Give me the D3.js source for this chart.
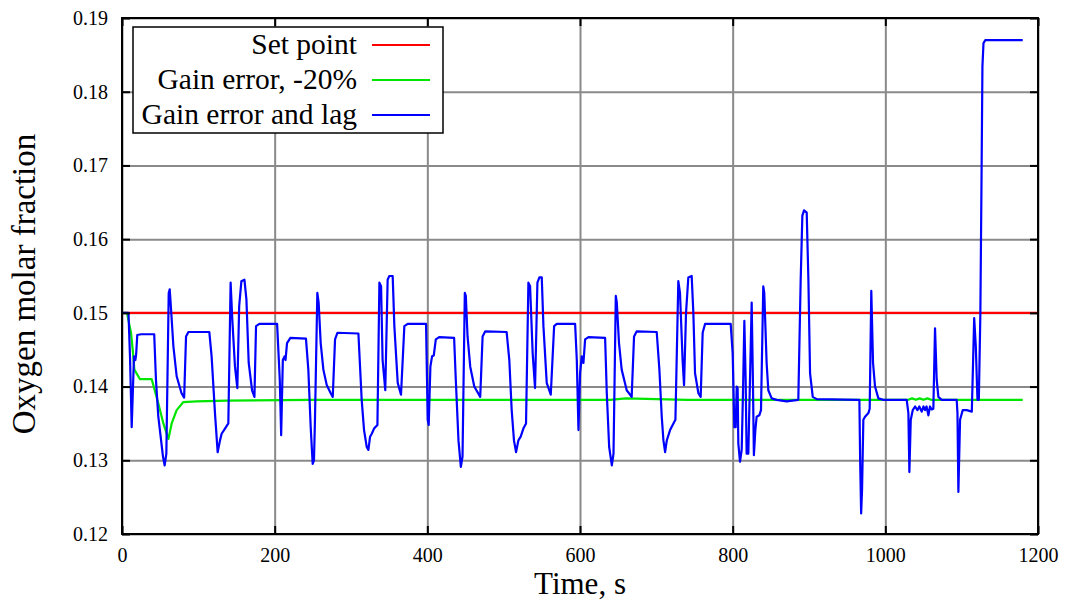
<!DOCTYPE html>
<html>
<head>
<meta charset="utf-8">
<script src="https://cdn.jsdelivr.net/npm/d3@7"></script>
<style>
  html, body { margin: 0; padding: 0; background: #fff; }
  svg { display: block; }
  text { font-family: "Liberation Serif", "DejaVu Serif", serif; fill: #000; }
</style>
</head>
<body>
<svg id="chart" width="1065" height="600"></svg>
<script>
// Time axis (s) and oxygen molar fraction series
const setPointT = [0, 1200];
const setPointV = [0.150, 0.150];

const gainT = [0, 6.5, 11.8, 14.5, 16.2, 23.6, 38.9, 47.6, 54.2, 60.8, 65.1, 71.6, 80.4, 97.8, 137.2, 246.4,
  640, 660, 700, 740, 1030, 1035, 1040, 1045, 1050, 1055, 1060, 1065, 1180];
const gainV = [0.1500, 0.1500, 0.1473, 0.1445, 0.1423, 0.1410, 0.1410, 0.1377, 0.1350, 0.1329, 0.1350, 0.1368, 0.1379, 0.1380, 0.1381, 0.1382,
  0.1382, 0.1384, 0.1383, 0.1382, 0.1382, 0.1384, 0.1382, 0.1384, 0.1382, 0.1384, 0.1382, 0.1382, 0.1382];

const lagT = [0, 8.5, 10.5, 12.7, 15.7, 17.5, 18.5, 20.0, 25, 42.2, 44.5, 47.5, 53.7, 55.9, 58.1, 61.2, 62.5, 64.0, 67.3, 71.6, 78.0, 81.4,
  83.9, 87.0, 114.4, 117.4, 121.8, 125.3, 128.4, 130.5, 134.9, 139.3, 142.3, 144.5, 148.0, 151.1, 153.5, 156.4, 160.4, 163.0, 166.0,
  170.4, 173.5, 175.6, 180.0, 203.2, 206.7, 208.5, 210.7, 212.9, 214.2, 216.2, 220.6, 241.0, 244.1, 247.2, 249.8, 251.5, 252.8, 255.9,
  257.6, 260.3, 263.8, 268.2, 273.4, 276.1, 279.1, 282.2, 309.7, 314.0, 317.1, 320.6, 322.8, 325.0, 327.2, 330.2, 334.6, 337.2, 339.4,
  341.4, 344.9, 348.0, 350.2, 354.6, 356.8, 361.2, 365.5, 369.9, 374.3, 398.3, 400.5, 401.8, 404.0, 406.2, 408.4, 411.1, 415.5, 435.1,
  437.3, 440.8, 443.9, 446.1, 449.1, 450.4, 452.7, 456.2, 461.5, 469.3, 472.4, 475.9, 503.9, 507.4, 510.5, 513.5, 516.2, 519.3, 522.3,
  525.8, 529.3, 532.4, 534.6, 538.0, 541.1, 544.2, 546.8, 549.9, 552.1, 556.4, 561.7, 566.1, 569.6, 593.6, 595.8, 598.0, 600.1, 602.3,
  604.5, 606.7, 611.1, 632.9, 635.1, 638.2, 641.7, 643.9, 646.9, 648.2, 651.1, 654.6, 661.2, 667.7, 670.8, 674.3, 700.5, 704.0, 707.1,
  709.3, 711.5, 713.7, 718.0, 722.4, 725.0, 728.8, 731.0, 734.4, 736.3, 738.9, 741.9, 746.3, 748.5, 750.7, 755.1, 758.1, 760.7, 763.8,
  797.4, 800.0, 802.2, 804.0, 805.3, 806.5, 807.4, 809.6, 811.8, 813.5, 815.3, 817.0, 818.3, 820.5, 822.7, 824.9, 826.5, 827.8, 829.7,
  831.4, 834.9, 837.1, 840.1, 841.4, 844.5, 846.7, 851.1, 857.6, 870.7, 886.0, 889.1, 891.3, 893.5, 897.0, 899.2, 901.4, 904.9, 910.1,
  964.7, 966.0, 967.0, 968.3, 969.5, 971.2, 973.4, 977.8, 979.5, 981.6, 983.9, 986.5, 990.9, 997.4, 1028.0, 1030.2, 1031.5, 1033.3,
  1035.9, 1039.0, 1042.0, 1044.5, 1047.6, 1050.0, 1052.0, 1054.0, 1056.4, 1058.5, 1060.7, 1062.9, 1065.1, 1067.3, 1069.5, 1073.8,
  1093.5, 1094.5, 1095.7, 1097.9, 1101.4, 1106.6, 1113.3, 1116.4, 1118.5, 1120.7, 1122.5, 1124.5, 1126.0, 1127.2, 1128.6, 1131.0, 1180];
const lagV = [0.1500, 0.1500, 0.1440, 0.1345, 0.1441, 0.1436, 0.1443, 0.1470, 0.1471, 0.1471, 0.1409, 0.1360, 0.1305, 0.1293, 0.1309,
  0.1527, 0.1532, 0.1509, 0.1455, 0.1414, 0.1391, 0.1385, 0.1468, 0.1474, 0.1474, 0.1441, 0.1364, 0.1311, 0.1327, 0.1336, 0.1343,
  0.1350, 0.1541, 0.1491, 0.1427, 0.1398, 0.1509, 0.1543, 0.1545, 0.1518, 0.1432, 0.1395, 0.1386, 0.1482, 0.1485, 0.1485, 0.1409,
  0.1334, 0.1436, 0.1441, 0.1436, 0.1459, 0.1466, 0.1465, 0.1423, 0.1345, 0.1295, 0.1300, 0.1355, 0.1527, 0.1514, 0.1459, 0.1423,
  0.1402, 0.1391, 0.1386, 0.1464, 0.1473, 0.1472, 0.1382, 0.1341, 0.1318, 0.1314, 0.1332, 0.1336, 0.1343, 0.1348, 0.1541, 0.1536,
  0.1436, 0.1395, 0.1545, 0.1550, 0.1550, 0.1482, 0.1405, 0.1389, 0.1482, 0.1485, 0.1485, 0.1355, 0.1348, 0.1427, 0.1441, 0.1442,
  0.1464, 0.1467, 0.1466, 0.1409, 0.1327, 0.1291, 0.1305, 0.1527, 0.1523, 0.1468, 0.1427, 0.1400, 0.1386, 0.1468, 0.1475, 0.1474,
  0.1436, 0.1368, 0.1327, 0.1311, 0.1327, 0.1332, 0.1343, 0.1350, 0.1541, 0.1536, 0.1445, 0.1398, 0.1541, 0.1548, 0.1548, 0.1482,
  0.1405, 0.1389, 0.1482, 0.1485, 0.1485, 0.1436, 0.1341, 0.1418, 0.1441, 0.1432, 0.1464, 0.1467, 0.1466, 0.1391, 0.1318, 0.1293,
  0.1309, 0.1523, 0.1514, 0.1459, 0.1423, 0.1395, 0.1386, 0.1468, 0.1475, 0.1474, 0.1423, 0.1359, 0.1327, 0.1311, 0.1327, 0.1341,
  0.1350, 0.1355, 0.1543, 0.1527, 0.1436, 0.1402, 0.1500, 0.1548, 0.1550, 0.1500, 0.1418, 0.1391, 0.1386, 0.1473, 0.1485, 0.1485,
  0.1445, 0.1345, 0.1345, 0.1400, 0.1398, 0.1323, 0.1298, 0.1314, 0.1391, 0.1489, 0.1409, 0.1309, 0.1309, 0.1409, 0.1514, 0.1409,
  0.1307, 0.1341, 0.1359, 0.1361, 0.1368, 0.1536, 0.1527, 0.1432, 0.1395, 0.1384, 0.1382, 0.1380, 0.1382, 0.1545, 0.1632, 0.1639,
  0.1636, 0.1545, 0.1418, 0.1386, 0.1383, 0.1382, 0.1382, 0.1300, 0.1228, 0.1260, 0.1355, 0.1359, 0.1364, 0.1370, 0.1530, 0.1432,
  0.1400, 0.1384, 0.1382, 0.1382, 0.1364, 0.1284, 0.1355, 0.1368, 0.1373, 0.1368, 0.1373, 0.1366, 0.1373, 0.1368, 0.1373, 0.1361,
  0.1373, 0.1369, 0.1370, 0.1479, 0.1409, 0.1386, 0.1382, 0.1382, 0.1364, 0.1257, 0.1355, 0.1368, 0.1368, 0.1366, 0.1493, 0.1455,
  0.1382, 0.1382, 0.1500, 0.1680, 0.1834, 0.1866, 0.1870, 0.1870];

const xTicks = [0, 200, 400, 600, 800, 1000, 1200];
const yTicks = [0.12, 0.13, 0.14, 0.15, 0.16, 0.17, 0.18, 0.19];

const series = [
  { name: "Set point", t: setPointT, v: setPointV, color: "#ff0000" },
  { name: "Gain error, -20%", t: gainT, v: gainV, color: "#00e600" },
  { name: "Gain error and lag", t: lagT, v: lagV, color: "#0000ff" }
];

const W = 1065, H = 600;
const margin = { left: 122, right: 27, top: 18, bottom: 66 };
const iw = W - margin.left - margin.right;
const ih = H - margin.top - margin.bottom;

const svg = d3.select("#chart");
const g = svg.append("g").attr("transform", `translate(${margin.left},${margin.top})`);

const x = d3.scaleLinear().domain([0, 1200]).range([0, iw]);
const y = d3.scaleLinear().domain([0.12, 0.19]).range([ih, 0]);

// grid lines
const grid = g.append("g").attr("class", "grid");
grid.append("g")
  .call(d3.axisBottom(x).tickValues(xTicks).tickSize(-ih).tickFormat(""))
  .attr("transform", `translate(0,${ih})`)
  .call(s => s.select(".domain").remove())
  .call(s => s.selectAll("line").attr("stroke", "#8a8a8a").attr("stroke-width", 2));
grid.append("g")
  .call(d3.axisLeft(y).tickValues(yTicks).tickSize(-iw).tickFormat(""))
  .call(s => s.select(".domain").remove())
  .call(s => s.selectAll("line").attr("stroke", "#8a8a8a").attr("stroke-width", 2));

// data lines
const clipId = "plot-clip";
g.append("clipPath").attr("id", clipId).append("rect").attr("width", iw).attr("height", ih);
const line = d3.line().x(d => x(d[0])).y(d => y(d[1]));
const lines = g.append("g").attr("clip-path", `url(#${clipId})`);
series.forEach(s => {
  lines.append("path")
    .datum(s.t.map((t, i) => [t, s.v[i]]))
    .attr("fill", "none")
    .attr("stroke", s.color)
    .attr("stroke-width", 2.2)
    .attr("stroke-linejoin", "round")
    .attr("d", line);
});

// axes: inward ticks on all four sides, labels on left and bottom
const tickLen = 8;
function styleAxis(sel) {
  sel.select(".domain").remove();
  sel.selectAll(".tick line").attr("stroke", "#000").attr("stroke-width", 2);
}
const xAxis = g.append("g").attr("transform", `translate(0,${ih})`)
  .call(d3.axisBottom(x).tickValues(xTicks).tickSizeInner(-tickLen).tickSizeOuter(0).tickPadding(14).tickFormat(d3.format("d")))
  .call(styleAxis);
xAxis.selectAll("text").attr("font-size", 20).attr("font-family", "Liberation Serif, serif").attr("fill", "#000");

g.append("g")
  .call(d3.axisTop(x).tickValues(xTicks).tickSizeInner(-tickLen).tickSizeOuter(0).tickFormat(""))
  .call(styleAxis);

const yAxis = g.append("g")
  .call(d3.axisLeft(y).tickValues(yTicks).tickSizeInner(-tickLen).tickSizeOuter(0).tickPadding(14).tickFormat(d3.format(".2f")))
  .call(styleAxis);
yAxis.selectAll("text").attr("font-size", 20).attr("font-family", "Liberation Serif, serif").attr("fill", "#000");

g.append("g").attr("transform", `translate(${iw},0)`)
  .call(d3.axisRight(y).tickValues(yTicks).tickSizeInner(-tickLen).tickSizeOuter(0).tickFormat(""))
  .call(styleAxis);

// frame
g.append("rect").attr("width", iw).attr("height", ih)
  .attr("fill", "none").attr("stroke", "#000").attr("stroke-width", 2);

// axis titles
svg.append("text")
  .attr("x", margin.left + iw / 2).attr("y", 594)
  .attr("text-anchor", "middle").attr("font-size", 31)
  .text("Time, s");
svg.append("text")
  .attr("transform", `translate(35,${284}) rotate(-90)`)
  .attr("text-anchor", "middle").attr("font-size", 33)
  .text("Oxygen molar fraction");

// legend
const legend = svg.append("g").attr("transform", "translate(133,27)");
legend.append("rect").attr("width", 310).attr("height", 106)
  .attr("fill", "#fff").attr("stroke", "#000").attr("stroke-width", 1.5);
series.forEach((s, i) => {
  const row = legend.append("g").attr("transform", `translate(0,${27 + i * 35})`);
  row.append("text").attr("x", 224).attr("y", 0)
    .attr("text-anchor", "end").attr("font-size", 29.5)
    .text(s.name);
  row.append("line").attr("x1", 239).attr("x2", 297).attr("y1", -9).attr("y2", -9)
    .attr("stroke", s.color).attr("stroke-width", 2);
});
</script>
</body>
</html>
